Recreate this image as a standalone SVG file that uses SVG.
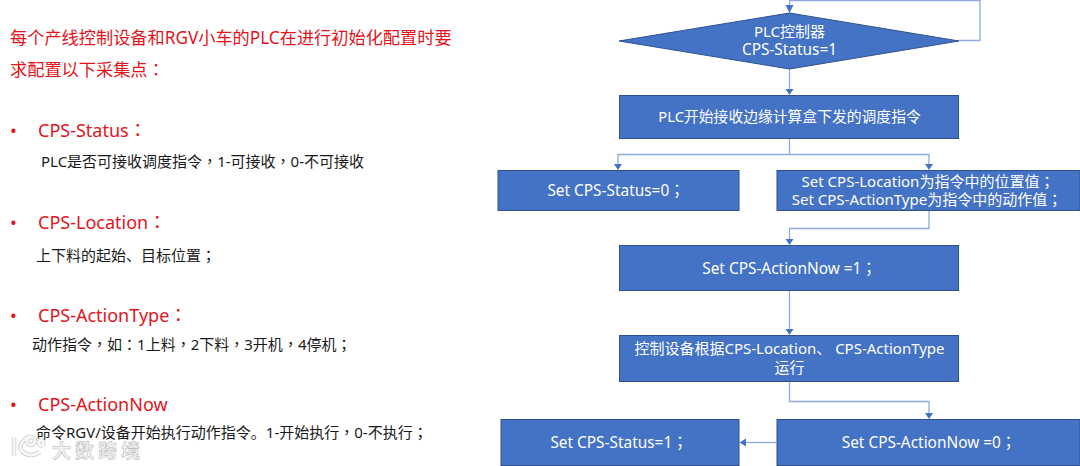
<svg xmlns="http://www.w3.org/2000/svg" width="1080" height="466" viewBox="0 0 1080 466">
<style>
text{font-family:"Noto Sans","Noto Sans CJK SC",sans-serif}
tspan{font-family:"Noto Sans CJK TC",sans-serif}
.b{fill:#4472c4;stroke:#2f528f;stroke-width:1}
.w{fill:#fff;font-size:15px;text-anchor:middle}
.l{font-size:15.400px}
.m{font-size:14.800px}
.r{fill:#e3141c;font-size:18px}
.t{fill:#e3141c;font-size:17.200px}
.k{fill:#1a1a1a;font-size:15px}
.c{fill:none;stroke:#8faadc;stroke-width:1.300}
.h{fill:#4472c4}
.wm{fill:#f4f4f4;stroke:#b5b5b5;stroke-width:.5;font-size:19px;font-weight:700}
.lo{fill:none;stroke:#cfcfcf;stroke-width:4.500}
.li{fill:none;stroke:#f6f6f6;stroke-width:2.800}
</style>
<defs><g id="logo"><path d="M14 437V456M30 436Q15 445 23 452Q30 458 40 452"/><circle cx="31" cy="441" r="4"/><circle cx="41" cy="443" r="2.500"/></g></defs>
<rect width="1080" height="466" fill="#fff"/>
<g id="watermark"><use href="#logo" class="lo"/><use href="#logo" class="li"/><text class="wm" x="52" y="458" textLength="88">大数跨境</text></g>
<g id="notes">
<text class="t" x="10" y="44">每个产线控制设备和RGV小车的PLC在进行初始化配置时要</text>
<text class="t" x="10" y="76">求配置以下采集点<tspan>：</tspan></text>
<text class="r" x="10" y="137">•</text><text class="r" x="38" y="137">CPS-Status<tspan>：</tspan></text>
<text class="k" x="41" y="167">PLC是否可接收调度指令<tspan>，</tspan>1-可接收<tspan>，</tspan>0-不可接收</text>
<text class="r" x="10" y="229">•</text><text class="r" x="38" y="229">CPS-Location<tspan>：</tspan></text>
<text class="k" x="36" y="261">上下料的起始、目标位置<tspan>；</tspan></text>
<text class="r" x="10" y="322">•</text><text class="r" x="38" y="322">CPS-ActionType<tspan>：</tspan></text>
<text class="k" x="32" y="350">动作指令<tspan>，</tspan>如<tspan>：</tspan>1上料<tspan>，</tspan>2下料<tspan>，</tspan>3开机<tspan>，</tspan>4停机<tspan>；</tspan></text>
<text class="r" x="10" y="411">•</text><text class="r" x="38" y="411">CPS-ActionNow</text>
<text class="k" x="36" y="438">命令RGV/设备开始执行动作指令。1-开始执行<tspan>，</tspan>0-不执行<tspan>；</tspan></text>
</g>
<g id="connectors">
<path class="c" d="M959 40.500H980V0.500H789.500V8"/>
<path class="c" d="M789.500 69V89"/>
<path class="c" d="M789.500 139V154.500H618V165"/>
<path class="c" d="M789.500 154.500H929V165"/>
<path class="c" d="M929 211V228.500H789.500V240"/>
<path class="c" d="M789.500 291V330"/>
<path class="c" d="M789.500 382V401.500H929V413"/>
<path class="c" d="M776 442.500H744"/>
<path class="h" d="M785.500 5H793.500L789.500 13Z"/>
<path class="h" d="M785.500 89H793.500L789.500 95Z"/>
<path class="h" d="M614 164H622L618 170Z"/>
<path class="h" d="M925 164H933L929 170Z"/>
<path class="h" d="M785.500 239H793.500L789.500 245Z"/>
<path class="h" d="M785.500 329H793.500L789.500 335Z"/>
<path class="h" d="M925 413H933L929 419Z"/>
<path class="h" d="M746 438.500V446.500L739.500 442.500Z"/>
</g>
<g id="n1"><path class="b" d="M619 41L789.500 13L959 41L789.500 69Z"/><text class="w" x="789.500" y="37">PLC控制器</text><text class="w l" x="789.500" y="55">CPS-Status=1</text></g>
<g id="n2"><rect class="b" x="619.500" y="95.500" width="339" height="43"/><text class="w m" x="789.500" y="122">PLC开始接收边缘计算盒下发的调度指令</text></g>
<g id="n3"><rect class="b" x="498" y="170.500" width="241" height="40"/><text class="w l" x="616" y="196">Set CPS-Status=0<tspan>；</tspan></text></g>
<g id="n4"><rect class="b" x="777" y="170.500" width="303" height="40"/><text class="w" x="928" y="187">Set CPS-Location为指令中的位置值<tspan>；</tspan></text><text class="w" x="927" y="205">Set CPS-ActionType为指令中的动作值<tspan>；</tspan></text></g>
<g id="n5"><rect class="b" x="619.500" y="245.500" width="339" height="45"/><text class="w l" x="789.500" y="274">Set CPS-ActionNow =1<tspan>；</tspan></text></g>
<g id="n6"><rect class="b" x="619.500" y="335.500" width="339" height="46"/><text class="w" x="789.500" y="354" font-size="15.200">控制设备根据CPS-Location、 CPS-ActionType</text><text class="w" x="789.500" y="373">运行</text></g>
<g id="n7"><rect class="b" x="501" y="419.500" width="238" height="46"/><text class="w l" x="619" y="448">Set CPS-Status=1<tspan>；</tspan></text></g>
<g id="n8"><rect class="b" x="777" y="419.500" width="303" height="46"/><text class="w l" x="929" y="448">Set CPS-ActionNow =0<tspan>；</tspan></text></g>
</svg>
